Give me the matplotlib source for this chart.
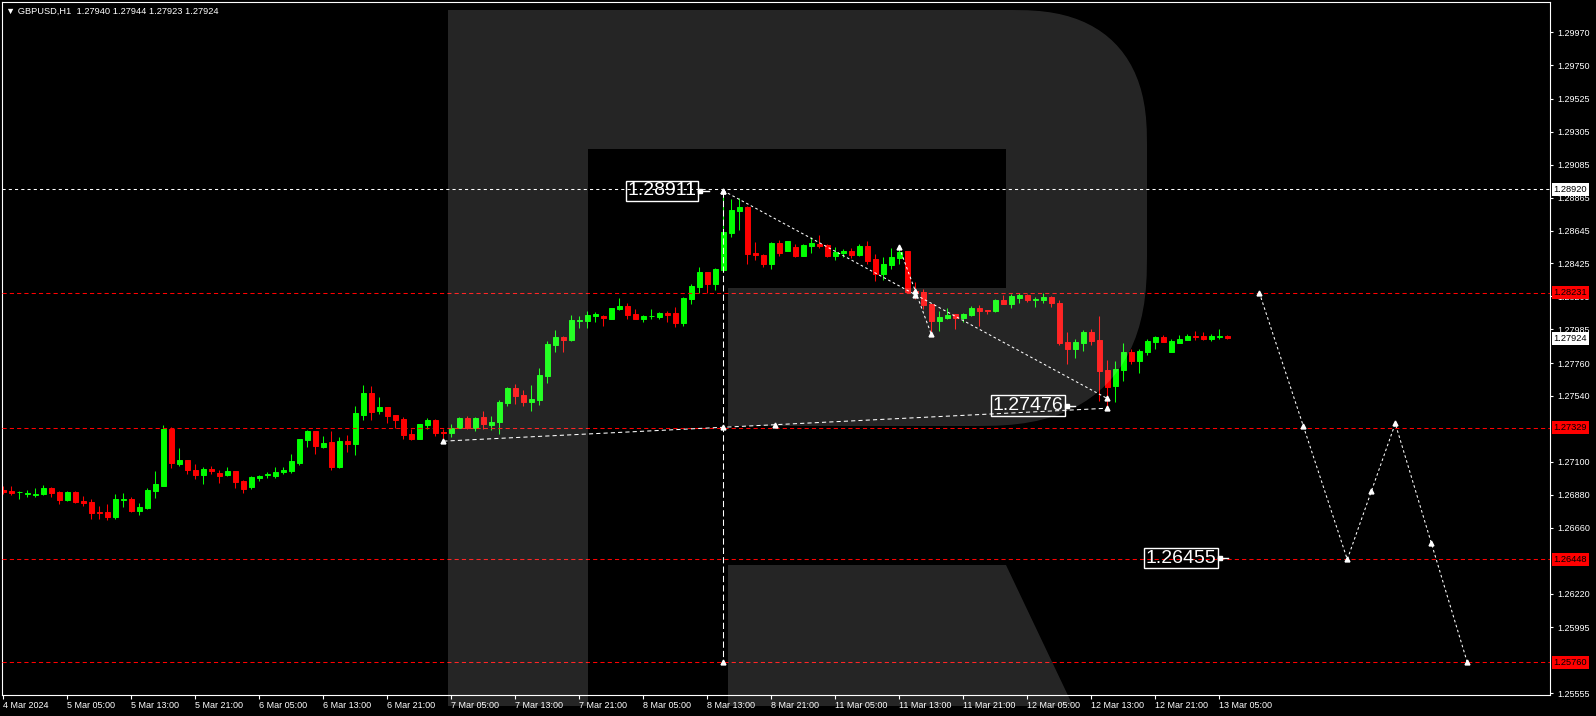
import numpy as np
import matplotlib
matplotlib.use('Agg')
import matplotlib.pyplot as plt
import matplotlib.transforms as mtransforms
from matplotlib.path import Path
from matplotlib.patches import PathPatch

plt.rcParams['font.family'] = ['Liberation Sans', 'DejaVu Sans']

# GBPUSD H1 candles, bar 0 = 4 Mar 21:00
opens = [1.26910, 1.26904, 1.26895, 1.26886, 1.26879, 1.26884, 1.26926, 1.26897, 1.26843, 1.26897,
         1.26839, 1.26830, 1.26763, 1.26763, 1.26730, 1.26846, 1.26850, 1.26770, 1.26790, 1.26904,
         1.26937, 1.27318, 1.27084, 1.27111, 1.27044, 1.27011, 1.27053, 1.27024, 1.27011, 1.27037,
         1.26970, 1.26930, 1.26990, 1.27010, 1.27005, 1.27032, 1.27037, 1.27090, 1.27244, 1.27304,
         1.27197, 1.27231, 1.27064, 1.27237, 1.27217, 1.27411, 1.27558, 1.27438, 1.27464, 1.27411,
         1.27384, 1.27284, 1.27251, 1.27344, 1.27378, 1.27297, 1.27291, 1.27324, 1.27391, 1.27324,
         1.27398, 1.27344, 1.27364, 1.27491, 1.27592, 1.27545, 1.27498, 1.27511, 1.27672, 1.27879,
         1.27932, 1.27912, 1.28039, 1.28039, 1.28073, 1.28073, 1.28053, 1.28119, 1.28139, 1.28086,
         1.28053, 1.28071, 1.28066, 1.28093, 1.28093, 1.28026, 1.28186, 1.28266, 1.28367, 1.28286,
         1.28380, 1.28627, 1.28774, 1.28800, 1.28493, 1.28480, 1.28420, 1.28560, 1.28507, 1.28533,
         1.28473, 1.28540, 1.28553, 1.28547, 1.28473, 1.28493, 1.28507, 1.28480, 1.28540, 1.28453,
         1.28353, 1.28413, 1.28460, 1.28507, 1.28239, 1.28233, 1.28152, 1.28039, 1.28059, 1.28086,
         1.28059, 1.28080, 1.28127, 1.28113, 1.28107, 1.28180, 1.28153, 1.28193, 1.28213, 1.28180,
         1.28180, 1.28200, 1.28160, 1.27899, 1.27853, 1.27893, 1.27966, 1.27913, 1.27712, 1.27605,
         1.27712, 1.27833, 1.27772, 1.27833, 1.27899, 1.27933, 1.27833, 1.27893, 1.27913, 1.27939,
         1.27939, 1.27919, 1.27935, 1.27940]
highs = [1.26937, 1.26937, 1.26906, 1.26910, 1.26924, 1.26944, 1.26930, 1.26904, 1.26904, 1.26904,
         1.26870, 1.26850, 1.26803, 1.26817, 1.26884, 1.26890, 1.26864, 1.26823, 1.26924, 1.27037,
         1.27345, 1.27331, 1.27191, 1.27111, 1.27084, 1.27064, 1.27071, 1.27044, 1.27064, 1.27037,
         1.26977, 1.27004, 1.27012, 1.27030, 1.27064, 1.27064, 1.27150, 1.27251, 1.27311, 1.27304,
         1.27271, 1.27304, 1.27264, 1.27277, 1.27471, 1.27611, 1.27605, 1.27531, 1.27464, 1.27411,
         1.27398, 1.27317, 1.27351, 1.27391, 1.27384, 1.27317, 1.27351, 1.27398, 1.27404, 1.27398,
         1.27438, 1.27405, 1.27511, 1.27598, 1.27618, 1.27578, 1.27612, 1.27725, 1.27906, 1.27979,
         1.27939, 1.28079, 1.28073, 1.28106, 1.28099, 1.28079, 1.28126, 1.28193, 1.28159, 1.28119,
         1.28079, 1.28119, 1.28099, 1.28106, 1.28133, 1.28200, 1.28286, 1.28400, 1.28367, 1.28393,
         1.28911, 1.28854, 1.28861, 1.28807, 1.28567, 1.28486, 1.28567, 1.28580, 1.28573, 1.28553,
         1.28553, 1.28600, 1.28613, 1.28553, 1.28533, 1.28520, 1.28527, 1.28553, 1.28573, 1.28486,
         1.28466, 1.28527, 1.28540, 1.28507, 1.28299, 1.28253, 1.28152, 1.28106, 1.28126, 1.28086,
         1.28092, 1.28140, 1.28147, 1.28113, 1.28187, 1.28213, 1.28220, 1.28227, 1.28220, 1.28200,
         1.28227, 1.28207, 1.28180, 1.27966, 1.27919, 1.27980, 1.27986, 1.28073, 1.27779, 1.27772,
         1.27893, 1.27853, 1.27853, 1.27919, 1.27939, 1.27946, 1.27919, 1.27946, 1.27953, 1.27973,
         1.27966, 1.27953, 1.27986, 1.27944]
lows = [1.26884, 1.26879, 1.26852, 1.26864, 1.26864, 1.26877, 1.26864, 1.26817, 1.26837, 1.26828,
        1.26803, 1.26721, 1.26721, 1.26710, 1.26715, 1.26797, 1.26763, 1.26743, 1.26783, 1.26857,
        1.26937, 1.27057, 1.27071, 1.27017, 1.26984, 1.26950, 1.27017, 1.26957, 1.27004, 1.26924,
        1.26890, 1.26920, 1.26972, 1.26995, 1.26995, 1.27017, 1.27023, 1.27077, 1.27197, 1.27150,
        1.27190, 1.27043, 1.27057, 1.27164, 1.27144, 1.27378, 1.27378, 1.27418, 1.27358, 1.27329,
        1.27251, 1.27244, 1.27251, 1.27317, 1.27271, 1.27237, 1.27264, 1.27324, 1.27317, 1.27304,
        1.27320, 1.27313, 1.27286, 1.27471, 1.27485, 1.27471, 1.27438, 1.27478, 1.27625, 1.27832,
        1.27832, 1.27906, 1.27992, 1.27992, 1.28033, 1.28006, 1.28053, 1.28113, 1.28053, 1.28053,
        1.28033, 1.28053, 1.28053, 1.28033, 1.27999, 1.28006, 1.28153, 1.28226, 1.28226, 1.28246,
        1.28367, 1.28600, 1.28647, 1.28420, 1.28446, 1.28400, 1.28386, 1.28473, 1.28507, 1.28466,
        1.28473, 1.28493, 1.28527, 1.28466, 1.28446, 1.28466, 1.28460, 1.28473, 1.28420, 1.28306,
        1.28313, 1.28386, 1.28420, 1.28233, 1.28186, 1.28119, 1.27956, 1.27972, 1.28052, 1.27985,
        1.28032, 1.28073, 1.28006, 1.28086, 1.28100, 1.28153, 1.28127, 1.28160, 1.28167, 1.28133,
        1.28160, 1.28133, 1.27879, 1.27752, 1.27793, 1.27839, 1.27879, 1.27505, 1.27476, 1.27499,
        1.27639, 1.27752, 1.27692, 1.27813, 1.27853, 1.27899, 1.27833, 1.27893, 1.27913, 1.27913,
        1.27913, 1.27906, 1.27922, 1.27923]
closes = [1.26897, 1.26892, 1.26899, 1.26892, 1.26884, 1.26924, 1.26890, 1.26846, 1.26897, 1.26832,
          1.26826, 1.26759, 1.26759, 1.26730, 1.26850, 1.26852, 1.26770, 1.26797, 1.26910, 1.26950,
          1.27318, 1.27091, 1.27111, 1.27044, 1.27011, 1.27051, 1.27037, 1.27004, 1.27037, 1.26964,
          1.26917, 1.26997, 1.27003, 1.27019, 1.27030, 1.27043, 1.27104, 1.27251, 1.27304, 1.27204,
          1.27224, 1.27064, 1.27237, 1.27217, 1.27424, 1.27558, 1.27431, 1.27464, 1.27404, 1.27378,
          1.27277, 1.27251, 1.27351, 1.27378, 1.27291, 1.27291, 1.27324, 1.27391, 1.27324, 1.27391,
          1.27353, 1.27364, 1.27498, 1.27592, 1.27538, 1.27498, 1.27518, 1.27678, 1.27886, 1.27932,
          1.27912, 1.28046, 1.28046, 1.28079, 1.28086, 1.28059, 1.28126, 1.28139, 1.28079, 1.28053,
          1.28073, 1.28077, 1.28093, 1.28079, 1.28026, 1.28193, 1.28273, 1.28367, 1.28286, 1.28387,
          1.28634, 1.28780, 1.28800, 1.28486, 1.28480, 1.28420, 1.28560, 1.28493, 1.28573, 1.28473,
          1.28547, 1.28560, 1.28540, 1.28473, 1.28500, 1.28507, 1.28480, 1.28540, 1.28440, 1.28353,
          1.28420, 1.28466, 1.28500, 1.28233, 1.28226, 1.28146, 1.28039, 1.28066, 1.28079, 1.28059,
          1.28086, 1.28127, 1.28107, 1.28107, 1.28180, 1.28153, 1.28207, 1.28213, 1.28180, 1.28187,
          1.28200, 1.28160, 1.27893, 1.27853, 1.27899, 1.27966, 1.27906, 1.27706, 1.27599, 1.27719,
          1.27833, 1.27772, 1.27839, 1.27906, 1.27933, 1.27899, 1.27906, 1.27919, 1.27939, 1.27933,
          1.27919, 1.27939, 1.27942, 1.27924]

time_labels = ['4 Mar 2024', '5 Mar 05:00', '5 Mar 13:00', '5 Mar 21:00', '6 Mar 05:00',
               '6 Mar 13:00', '6 Mar 21:00', '7 Mar 05:00', '7 Mar 13:00', '7 Mar 21:00',
               '8 Mar 05:00', '8 Mar 13:00', '8 Mar 21:00', '11 Mar 05:00', '11 Mar 13:00',
               '11 Mar 21:00', '12 Mar 05:00', '12 Mar 13:00', '12 Mar 21:00', '13 Mar 05:00']
# scale labels that are not hidden behind the level tags
price_ticks = [1.29970, 1.29750, 1.29525, 1.29305, 1.29085, 1.28865, 1.28645, 1.28425, 1.28205,
               1.27985, 1.27760, 1.27540, 1.27100, 1.26880, 1.26660, 1.26220,
               1.25995, 1.25555]

red_levels = [1.28231, 1.27329, 1.26448, 1.25760]
high_level = 1.28920
last_price = 1.27924

# forecast zigzag
fc_bars = [157, 168, 174, 183]
fc_prices = [1.28231, 1.26448, 1.27356, 1.25760]

# drawn trend lines (bar, price)
up_line = ([55, 138], [1.27238, 1.27458])
down_line = ([90, 138], [1.28911, 1.27523])
short_line = ([112, 116], [1.28532, 1.27952])
vert_line = ([90, 90], [1.28911, 1.25760])

# boxed price notes: text, bar of box right edge, price, bar where pointer ends
notes = [('1.28911', 86.6, 1.28911, 88.2),
         ('1.27476', 132.5, 1.27476, 134.0),
         ('1.26455', 151.6, 1.26455, 153.1)]

W, H = 1596, 716
fig = plt.figure(figsize=(W / 100, H / 100), dpi=100, facecolor='black')
ax = fig.add_axes([2 / W, 21 / H, 1548 / W, 693 / H], facecolor='black')

# candles
o = np.array(opens); c = np.array(closes)
x = np.arange(len(o))
cols = np.where(c >= o, '#00ff00', '#ff0000')
ax.vlines(x, lows, highs, colors=cols, linewidth=0.75, zorder=2)
ax.bar(x, np.abs(c - o), width=0.56, bottom=np.minimum(o, c), color=cols,
       edgecolor=cols, linewidth=0.7, zorder=2.1)

# level lines
for lv in red_levels:
    ax.axhline(lv, color='#ff0000', lw=0.75, dashes=(4, 3), zorder=3)
ax.axhline(high_level, color='white', lw=0.75, dashes=(3, 3), zorder=3)


def marked_line(xs, ys, dashes):
    ax.plot(xs, ys, color='white', lw=0.75, dashes=dashes, zorder=3.2)
    mx = [(a + b) / 2 for a, b in zip(xs[:-1], xs[1:])]
    my = [(a + b) / 2 for a, b in zip(ys[:-1], ys[1:])]
    ax.plot(list(xs) + mx, list(ys) + my, ls='none', marker='^', ms=3.5,
            color='white', zorder=3.3)


marked_line(fc_bars, fc_prices, (2.5, 2.5))
marked_line(*up_line, (4, 3))
marked_line(*down_line, (2.5, 2.5))
marked_line(*short_line, (2.5, 2.5))
marked_line(*vert_line, (6, 3))

for txt, xr, pr, xp in notes:
    ax.text(xr, pr, txt, ha='right', va='center', fontsize=14, color='white', zorder=4,
            bbox=dict(boxstyle='square,pad=0.08', fc='none', ec='white', lw=1))
    ax.plot([xr + 0.3, xp], [pr, pr], color='white', lw=1, zorder=4)
    ax.plot([xr + 0.5], [pr], marker='s', ms=2.5, color='white', zorder=4)

# axes look
ax.set_xlim(-0.1625, 193.34)
ax.set_ylim(1.25542, 1.30172)
for sp in ax.spines.values():
    sp.set_color('white')
    sp.set_linewidth(0.8)
ax.yaxis.tick_right()
ax.set_yticks(price_ticks)
ax.set_yticklabels([f'{v:.5f}' for v in price_ticks])
ax.set_xticks(range(0, 8 * len(time_labels), 8))
ax.set_xticklabels(time_labels)
for lb in ax.get_xticklabels():
    lb.set_horizontalalignment('left')
ax.tick_params(axis='y', colors='white', length=2.5, width=0.8, pad=2.5, labelsize=6.5)
ax.tick_params(axis='x', colors='white', length=3, width=0.8, pad=1.5, labelsize=6.5)

# price tags on the scale
tags = [(high_level, 'white')] + [(lv, '#ff0000') for lv in red_levels] + [(last_price, 'white')]
for pr, fcol in tags:
    ax.text(1.0022, pr, f'{pr:.5f}', transform=ax.get_yaxis_transform(), ha='left',
            va='center', fontsize=6.7, color='black', zorder=6, clip_on=False,
            bbox=dict(boxstyle='square,pad=0.2', fc=fcol, ec='none'))

fig.text(6 / W, 1 - 11 / H, '▼ GBPUSD,H1  1.27940 1.27944 1.27923 1.27924',
         fontsize=6.7, color='white', va='center', ha='left')


# watermark "R", in image pixels (top-left origin)
def corner(cx, cy, r, t0, t1, n=2.5, k=24):
    t = np.linspace(t0, t1, k)
    cs, sn = np.cos(t), np.sin(t)
    return list(zip(cx + r * np.sign(cs) * np.abs(cs) ** (2 / n),
                    cy + r * np.sign(sn) * np.abs(sn) ** (2 / n)))


stem = [(448, 10), (588, 10), (588, 706), (448, 706)]
bowl = ([(588, 10)] + corner(1012, 145, 135, -np.pi / 2, 0)
        + corner(977, 256, 170, 0, np.pi / 2)
        + [(728, 426), (728, 288), (1006, 288), (1006, 149), (588, 149)])
leg = [(728, 565), (1006, 565), (1073, 706), (728, 706)]
verts, codes = [], []
for poly in (stem, bowl, leg):
    verts += poly + [poly[0]]
    codes += [Path.MOVETO] + [Path.LINETO] * (len(poly) - 1) + [Path.CLOSEPOLY]
pix = mtransforms.Affine2D().scale(1 / W, -1 / H).translate(0, 1) + fig.transFigure
fig.add_artist(PathPatch(Path(verts, codes), transform=pix, fc='white', ec='none',
                         alpha=0.15, zorder=5))

fig.savefig('out.png', dpi=100, facecolor='black')
